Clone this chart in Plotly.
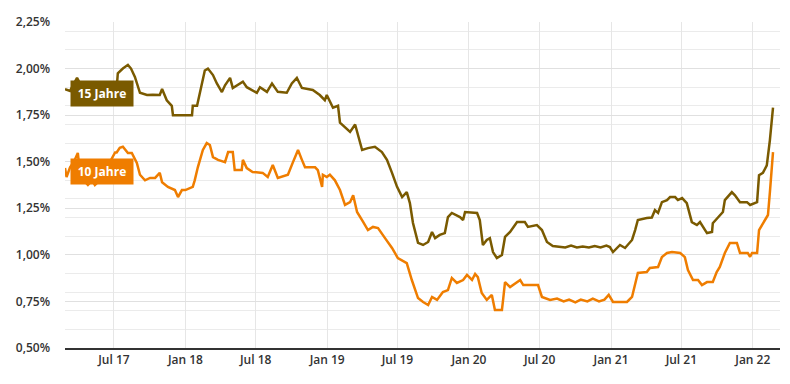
import plotly.graph_objects as go

# 15-year yields (%)
dates_15 = [
    "2017-02-25","2017-03-10","2017-03-28","2017-04-10","2017-04-25","2017-05-13","2017-06-03","2017-06-21",
    "2017-07-09","2017-07-11","2017-07-24","2017-08-06","2017-08-14","2017-08-24","2017-09-06","2017-09-24",
    "2017-10-09","2017-10-27","2017-11-02","2017-11-14","2017-11-27","2017-11-30","2018-01-18","2018-01-20",
    "2018-01-31","2018-02-13","2018-02-20","2018-02-28","2018-03-13","2018-03-23","2018-04-05","2018-04-13",
    "2018-04-26","2018-05-03","2018-05-29","2018-06-08","2018-07-04","2018-07-12","2018-07-30","2018-08-12",
    "2018-08-27","2018-09-19","2018-10-02","2018-10-15","2018-10-28","2018-11-25","2018-12-13","2018-12-26",
    "2018-12-31","2019-01-16","2019-01-29","2019-02-03","2019-02-16","2019-03-01","2019-03-14","2019-04-01",
    "2019-04-16","2019-05-04","2019-05-22","2019-06-04","2019-06-17","2019-06-30","2019-07-13","2019-07-25",
    "2019-08-02","2019-08-10","2019-08-23","2019-09-05","2019-09-18","2019-09-28","2019-10-06","2019-10-18",
    "2019-10-31","2019-11-08","2019-11-18","2019-12-09","2019-12-17","2019-12-22","2020-01-22","2020-01-29",
    "2020-02-06","2020-02-16","2020-02-24","2020-03-03","2020-03-13","2020-03-26","2020-04-03","2020-04-16",
    "2020-05-04","2020-05-24","2020-06-01","2020-06-24","2020-07-07","2020-07-20","2020-08-04","2020-08-20",
    "2020-09-05","2020-09-20","2020-10-05","2020-10-20","2020-11-05","2020-11-20","2020-12-05","2020-12-20",
    "2020-12-29","2021-01-06","2021-01-24","2021-02-06","2021-02-24","2021-03-04","2021-03-11","2021-04-03",
    "2021-04-16","2021-04-24","2021-05-02","2021-05-12","2021-05-25","2021-06-02","2021-06-15","2021-06-22",
    "2021-07-03","2021-07-15","2021-07-28","2021-08-10","2021-08-18","2021-09-05","2021-09-18","2021-09-20",
    "2021-10-03","2021-10-16","2021-10-21","2021-11-08","2021-11-16","2021-11-29","2021-12-17","2021-12-25",
    "2022-01-12","2022-01-17","2022-01-27","2022-02-06","2022-02-14","2022-02-22",
]
yield_15 = [
    1.89,1.88,1.95,1.90,1.82,1.84,1.83,1.88,
    1.92,1.975,2.00,2.02,2.00,1.955,1.87,1.858,
    1.86,1.858,1.89,1.83,1.80,1.75,1.75,1.80,
    1.80,1.92,1.99,2.00,1.965,1.92,1.874,1.91,
    1.95,1.896,1.93,1.90,1.87,1.90,1.875,1.92,
    1.875,1.87,1.92,1.95,1.896,1.885,1.858,1.83,
    1.858,1.79,1.80,1.71,1.686,1.66,1.70,1.563,
    1.573,1.58,1.552,1.51,1.44,1.365,1.31,1.337,
    1.278,1.171,1.064,1.053,1.069,1.123,1.09,1.107,
    1.117,1.203,1.225,1.203,1.187,1.23,1.225,1.187,
    1.053,1.08,1.09,1.015,0.983,0.999,1.096,1.123,
    1.176,1.176,1.15,1.16,1.133,1.069,1.048,1.045,
    1.04,1.05,1.04,1.045,1.04,1.048,1.04,1.05,
    1.042,1.015,1.053,1.037,1.08,1.133,1.187,1.198,
    1.20,1.24,1.225,1.283,1.294,1.31,1.31,1.294,
    1.305,1.278,1.176,1.16,1.176,1.117,1.123,1.17,
    1.203,1.23,1.294,1.337,1.32,1.283,1.283,1.268,
    1.283,1.428,1.44,1.48,1.616,1.79,
]

# 10-year yields (%)
dates_10 = [
    "2017-02-25","2017-03-01","2017-03-10","2017-03-20","2017-03-30","2017-04-04","2017-04-14","2017-04-25",
    "2017-05-06","2017-05-13","2017-05-26","2017-06-08","2017-06-21","2017-07-04","2017-07-08","2017-07-16",
    "2017-07-24","2017-08-06","2017-08-16","2017-08-29","2017-09-06","2017-09-19","2017-10-02","2017-10-15",
    "2017-10-27","2017-11-02","2017-11-17","2017-12-05","2017-12-13","2017-12-23","2018-01-01","2018-01-20",
    "2018-01-25","2018-02-02","2018-02-15","2018-02-25","2018-03-05","2018-03-13","2018-03-26","2018-04-13",
    "2018-04-21","2018-05-03","2018-05-08","2018-05-26","2018-05-29","2018-06-08","2018-06-23","2018-07-19",
    "2018-08-01","2018-08-14","2018-08-27","2018-09-22","2018-10-05","2018-10-18","2018-10-28","2018-11-05",
    "2018-12-01","2018-12-08","2018-12-19","2018-12-21","2018-12-31","2019-01-08","2019-01-21","2019-02-03",
    "2019-02-16","2019-03-01","2019-03-09","2019-03-19","2019-04-04","2019-04-16","2019-04-29","2019-05-12",
    "2019-05-30","2019-06-17","2019-07-02","2019-07-25","2019-08-07","2019-08-23","2019-09-05","2019-09-18",
    "2019-09-28","2019-10-11","2019-10-26","2019-11-08","2019-11-18","2019-12-01","2019-12-17","2019-12-27",
    "2020-01-09","2020-01-17","2020-01-24","2020-02-03","2020-02-16","2020-02-29","2020-03-08","2020-03-26",
    "2020-03-29","2020-04-03","2020-04-16","2020-05-12","2020-05-20","2020-06-27","2020-07-07","2020-07-28",
    "2020-08-15","2020-09-01","2020-09-15","2020-10-01","2020-10-15","2020-11-01","2020-11-15","2020-12-01",
    "2020-12-15","2020-12-26","2021-01-06","2021-02-11","2021-02-24","2021-03-04","2021-03-11","2021-04-03",
    "2021-04-11","2021-05-02","2021-05-12","2021-05-25","2021-06-07","2021-06-28","2021-07-10","2021-07-18",
    "2021-07-31","2021-08-13","2021-08-23","2021-09-05","2021-09-20","2021-09-30","2021-10-08","2021-10-21",
    "2021-11-03","2021-11-21","2021-11-29","2021-12-19","2021-12-25","2021-12-30","2022-01-12","2022-01-17",
    "2022-01-27","2022-02-09","2022-02-14","2022-02-22",
]
yield_10 = [
    1.466,1.418,1.47,1.50,1.547,1.45,1.40,1.375,
    1.40,1.375,1.40,1.45,1.50,1.55,1.55,1.575,
    1.58,1.547,1.547,1.493,1.43,1.40,1.413,1.413,
    1.44,1.39,1.365,1.348,1.31,1.348,1.348,1.365,
    1.40,1.47,1.563,1.60,1.59,1.525,1.51,1.498,
    1.552,1.552,1.455,1.455,1.51,1.466,1.445,1.44,
    1.418,1.482,1.413,1.43,1.498,1.563,1.51,1.47,
    1.47,1.455,1.365,1.43,1.418,1.43,1.40,1.348,
    1.268,1.283,1.32,1.23,1.176,1.133,1.15,1.144,
    1.09,1.037,0.983,0.956,0.865,0.768,0.747,0.731,
    0.774,0.758,0.80,0.811,0.876,0.849,0.865,0.892,
    0.865,0.897,0.88,0.795,0.758,0.785,0.704,0.704,
    0.758,0.854,0.827,0.865,0.838,0.838,0.774,0.758,
    0.765,0.75,0.76,0.745,0.76,0.75,0.765,0.75,
    0.76,0.785,0.747,0.747,0.774,0.849,0.903,0.908,
    0.93,0.935,0.988,1.01,1.015,1.01,0.988,0.919,
    0.865,0.865,0.838,0.854,0.854,0.908,0.935,1.01,
    1.064,1.064,1.01,1.01,0.99,1.01,1.01,1.133,
    1.171,1.214,1.337,1.552,
]

series_names = ["15 Jahre", "10 Jahre"]
colors = ["#7a5a00", "#ef7d00"]

x_range = ["2017-02-25", "2022-03-12"]
y_range = [0.5, 2.25]

fig = go.Figure()
fig.add_trace(go.Scatter(x=dates_15, y=yield_15, mode="lines", name=series_names[0],
                         line=dict(color=colors[0], width=2.5)))
fig.add_trace(go.Scatter(x=dates_10, y=yield_10, mode="lines", name=series_names[1],
                         line=dict(color=colors[1], width=2.5)))

label_font = dict(family="Open Sans", size=12, color="#333333", weight=600)

fig.update_layout(
    width=790, height=384,
    margin=dict(l=65, r=10, t=22, b=36),
    paper_bgcolor="white", plot_bgcolor="white",
    showlegend=False,
    separators=",.",
    font=label_font,
    xaxis=dict(
        type="date", range=x_range,
        tickvals=["2017-07-01","2018-01-01","2018-07-01","2019-01-01","2019-07-01",
                  "2020-01-01","2020-07-01","2021-01-01","2021-07-01","2022-01-01"],
        tickformat="%b %y",
        showgrid=True, gridcolor="#e6e6e6", gridwidth=1,
        showline=True, linecolor="#333333", linewidth=1.5,
        ticks="", tickfont=label_font, zeroline=False,
    ),
    yaxis=dict(
        range=y_range, tick0=0.5, dtick=0.25,
        tickformat=".2f", ticksuffix="%",
        showgrid=True, gridcolor="#e0e0e0", gridwidth=1,
        minor=dict(tick0=0.5, dtick=0.1, showgrid=True, gridcolor="#ebebeb", gridwidth=1),
        zeroline=False, showline=False, ticks="",
        ticklabelstandoff=14, tickfont=label_font,
    ),
)

for name, col, ypos in [(series_names[0], colors[0], 0.781), (series_names[1], colors[1], 0.54)]:
    fig.add_annotation(
        xref="paper", yref="paper", x=0.007, y=ypos, xanchor="left", yanchor="middle",
        text=name, showarrow=False, bgcolor=col, width=62, height=25, borderpad=0,
        font=dict(family="Open Sans", size=12, color="white", weight=700), align="center",
    )

fig.write_html("out.html")
